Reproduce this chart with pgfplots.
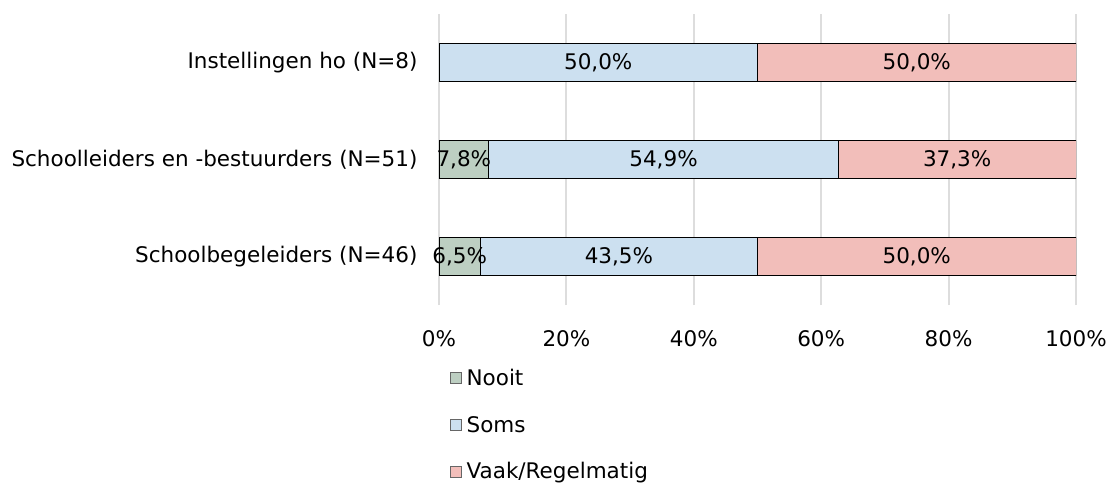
\documentclass[border=0pt]{standalone}
\usepackage{pgfplots}
\pgfplotsset{compat=1.18}
\usepackage{fontspec}
\setmainfont{DejaVu Sans}
\definecolor{cNooit}{HTML}{BDCFC2}
\definecolor{cSoms}{HTML}{CCE0F0}
\definecolor{cVaak}{HTML}{F2BEBA}
\definecolor{gridc}{HTML}{DDDDDD}
\pgfplotsset{/pgf/number format/assume math mode=true}
\newcommand{\ff}{\fontsize{21.5pt}{26pt}\selectfont}
\begin{document}
\begin{tikzpicture}
\useasboundingbox (-439pt,-178pt) rectangle (671pt,305pt);
\pgfplotsset{base/.style={width=637pt,height=291pt,scale only axis,
  xmin=0,xmax=100,ymin=-0.5,ymax=2.5,at={(0,0)},anchor=south west}}
\begin{axis}[base, xbar stacked, bar width=38pt,
  ytick={0,1,2},
  yticklabels={Schoolbegeleiders (N=46),Schoolleiders en -bestuurders (N=51),Instellingen ho (N=8)},
  xtick={0,20,40,60,80,100},
  xticklabel={\pgfmathprintnumber{\tick}\%},
  tick label style={font=\ff},
  yticklabel style={xshift=-18pt},
  xticklabel style={yshift=-22pt},
  axis line style={draw=none},
  major tick length=0pt,
  xmajorgrids, grid style={gridc, line width=1.8pt},
  legend cell align=left,
  legend style={at={(0.017,-0.22)},anchor=north west,draw=none,fill=none,
    font=\ff,row sep=29pt,inner sep=0pt,
    nodes={inner sep=0pt}},
  legend image code/.code={\draw[#1,draw=black!60,line width=0.6pt] (0pt,-5.5pt) rectangle (11pt,5.5pt);},
]
\addplot[fill=cNooit,draw=black,line width=0.8pt] coordinates {(0,2) (7.8,1) (6.5,0)};
\addlegendentry{\hspace{5pt}Nooit}
\addplot[fill=cSoms,draw=black,line width=0.8pt] coordinates {(50,2) (54.9,1) (43.5,0)};
\addlegendentry{\hspace{5pt}Soms}
\addplot[fill=cVaak,draw=black,line width=0.8pt] coordinates {(50,2) (37.3,1) (50,0)};
\addlegendentry{\hspace{5pt}Vaak/Regelmatig}
\end{axis}
\begin{axis}[base, hide axis]
\addplot[only marks, mark=none, point meta=explicit,
  nodes near coords={\pgfmathprintnumber[fixed,fixed zerofill,precision=1,use comma]{\pgfplotspointmeta}\%},
  every node near coord/.append style={anchor=center,font=\ff,text=black}]
  coordinates {
  (25,2) [50.0] (75,2) [50.0]
  (3.9,1) [7.8] (35.25,1) [54.9] (81.35,1) [37.3]
  (3.25,0) [6.5] (28.25,0) [43.5] (75,0) [50.0]
  };
\end{axis}
\end{tikzpicture}
\end{document}
